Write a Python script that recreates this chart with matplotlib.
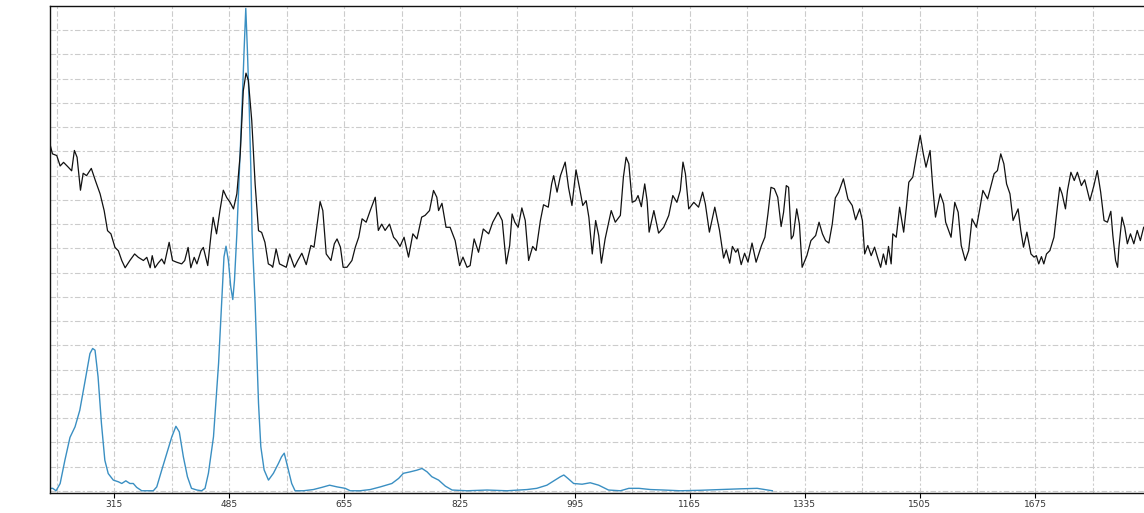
import matplotlib.pyplot as plt
import numpy as np

# measured spectrum (black trace)
meas_x = [220, 223.6, 230, 235, 240, 247, 252, 256, 260, 265, 269, 274, 281, 287, 294, 300,
          305, 310, 316, 321, 326, 331, 338, 345, 350.5, 358, 363, 368, 371, 375, 380, 385,
          389, 396, 401, 407, 414.5, 419, 424, 428, 433, 437, 443, 446.5, 453, 458, 461, 466,
          471, 476, 481, 486, 491, 496, 501, 505.5, 509.5, 513, 518, 523, 528, 532.6, 537.5,
          542.5, 547,
          549, 554, 559, 564, 569, 574, 581, 586, 592, 598.5, 605.4, 610, 614, 619, 623, 628,
          635, 640, 644, 649, 653, 658.6, 666, 671, 676, 681, 687, 693, 700.4, 705, 710, 715,
          721.5, 727.5, 732, 737, 743, 749.6, 756, 762, 769, 774, 780.6, 786.5, 791.4, 794,
          799, 805, 811, 818.5, 825, 830, 836, 840.6, 846.5, 853, 860, 868, 874, 882,
          888, 894, 899, 902.6, 906.6, 911.5, 917, 922, 927, 933, 938, 944.4, 949, 956, 961,
          964, 969, 974, 981, 986, 991, 997, 1002, 1007, 1012, 1016, 1021, 1026, 1030.5,
          1034.5, 1040, 1049, 1055, 1062.5, 1067, 1071, 1075, 1080, 1085, 1088.6, 1093.5,
          1098.5, 1102, 1105, 1112, 1119, 1126.5, 1134, 1140, 1146, 1151, 1155, 1158.6,
          1163.5, 1171, 1178, 1184, 1188, 1194, 1202, 1209,
          1215, 1219, 1224, 1228, 1233, 1236, 1241, 1246, 1251, 1257, 1263, 1271, 1276,
          1280.5, 1285, 1290, 1295, 1300, 1303.6, 1307.6, 1311, 1315, 1318, 1323, 1327, 1331,
          1338, 1344, 1351, 1356, 1361, 1365.6, 1370.5, 1375.5, 1380, 1385, 1392, 1398.6,
          1405, 1410, 1416, 1420, 1423.4, 1428, 1433, 1438, 1443, 1447, 1451, 1455, 1458.6,
          1462.5, 1465, 1470, 1475, 1481, 1485, 1488.6, 1494.5, 1499.5, 1505.4, 1510, 1514,
          1520, 1524, 1528, 1535, 1540, 1543,
          1551, 1556.5, 1561.5, 1566, 1572, 1577, 1582, 1588.5, 1593.4, 1598, 1605, 1610,
          1614.6, 1619.5, 1624.4, 1629, 1633, 1638, 1642.6, 1650, 1654, 1658, 1663, 1669,
          1673.6, 1677, 1680.5, 1684.5, 1688, 1692, 1697, 1703, 1708, 1711.5, 1715, 1720,
          1723, 1728, 1733, 1737.6, 1743.5, 1748.4, 1756, 1762, 1767, 1772, 1777, 1782, 1787,
          1790, 1794, 1797, 1799, 1803.5, 1807.5, 1811.4, 1816, 1821, 1826, 1830.6, 1835.5]
meas_y = [14.3, 13.9, 13.83, 13.4, 13.55, 13.35, 13.2, 14.04, 13.76, 12.4, 13.1, 13.0, 13.3,
          12.8, 12.25, 11.56, 10.73, 10.6, 10.04, 9.9, 9.5, 9.2, 9.5, 9.77, 9.63, 9.5, 9.63,
          9.2, 9.7, 9.2, 9.4, 9.56, 9.36, 10.25, 9.5, 9.43, 9.36, 9.5, 10.04, 9.2, 9.63, 9.36,
          9.9, 10.04, 9.29, 10.6, 11.28, 10.6, 11.56, 12.4, 12.1, 11.9, 11.63, 12.25, 13.9,
          16.5, 17.23, 16.93, 15.28, 12.66, 10.73, 10.66, 10.25, 9.36, 9.29,
          9.22, 9.98, 9.36, 9.29, 9.22, 9.77, 9.22, 9.5, 9.8, 9.33, 10.12, 10.05, 10.87, 11.93,
          11.56, 9.77, 9.5, 10.19, 10.39, 10.05, 9.22, 9.22, 9.5, 10.05, 10.46, 11.22, 11.08,
          11.56, 12.11, 10.74, 11.0, 10.74, 11.0, 10.46, 10.32, 10.08, 10.46, 9.64, 10.6,
          10.39, 11.29, 11.36, 11.56, 12.39, 12.11, 11.56, 11.86, 10.87, 10.87, 10.32, 9.29,
          9.64, 9.22, 9.29, 10.39, 9.84, 10.8, 10.6, 11.08, 11.49,
          11.15, 9.36, 10.12, 11.42, 11.08, 10.87, 11.67, 11.15, 9.5, 10.08, 9.91, 11.15, 11.8,
          11.7, 12.66, 13.0, 12.32, 13.0, 13.56, 12.5, 11.77, 13.24, 12.52, 11.77, 11.97,
          11.28, 9.77, 11.15, 10.53, 9.39, 10.39, 11.56, 11.08, 11.36, 12.94, 13.76, 13.49,
          11.9, 11.97, 12.18, 11.72, 12.66, 11.97, 10.67, 11.56, 10.63, 10.87, 11.36, 12.18,
          11.9, 12.39, 13.56, 13.08, 11.63, 11.9, 11.7, 12.32, 11.84, 10.67, 11.7, 10.74,
          9.6, 9.94, 9.39, 10.08, 9.84, 9.98, 9.33, 9.8, 9.43, 10.22, 9.43, 10.12, 10.46,
          11.42, 12.52, 12.46, 12.11, 10.9, 11.49, 12.59, 12.52, 10.39, 10.53, 11.63, 11.0,
          9.22, 9.7, 10.32, 10.53, 11.08, 10.6, 10.32, 10.22, 11.0, 12.08, 12.32, 12.87,
          12.04, 11.77, 11.18, 11.63, 11.15, 9.77, 10.12, 9.7, 10.05, 9.57, 9.22, 9.77, 9.33,
          10.08, 9.36, 10.6, 10.46, 11.7, 10.67, 11.7, 12.73, 12.94, 13.76, 14.66, 13.9,
          13.35, 14.04, 12.52, 11.29, 12.25, 11.84, 11.08,
          10.46, 11.9, 11.49, 10.12, 9.5, 9.91, 11.22, 10.87, 11.63, 12.39, 12.04, 12.59,
          13.08, 13.21, 13.9, 13.49, 12.66, 12.25, 11.15, 11.63, 10.74, 10.05, 10.67, 9.77,
          9.64, 9.7, 9.36, 9.66, 9.36, 9.77, 9.91, 10.46, 11.7, 12.52, 12.25, 11.63, 12.39,
          13.14, 12.8, 13.14, 12.59, 12.83, 11.97, 12.59, 13.21, 12.32, 11.15, 11.08, 11.53,
          10.53, 9.5, 9.22, 10.05, 11.29, 10.87, 10.19, 10.6, 10.19, 10.74, 10.32, 10.87]

# reference spectrum (blue trace)
ref_x = [220, 224, 229, 235, 242, 249.5, 257, 264, 272, 279, 283, 286.5, 291, 296, 301, 306,
         313.5, 321, 326, 332, 338, 343, 348, 355.5, 365, 372.6, 377.7, 385, 392.5, 400, 406,
         411, 417, 423, 429, 437, 444, 449, 454, 461.5, 469, 474, 477, 480, 483.5, 487, 490,
         492.5, 496, 500, 504, 506.7, 509.2, 511.6, 514, 516.6, 518.5, 523, 525.5, 528,
         531.4, 536.3, 542.7, 550, 557.5, 562, 566, 570, 577, 582, 594.4, 609, 621.6, 633,
         644, 656, 663.5, 678, 693, 708, 725, 735, 742, 752, 762, 769.5, 777, 784, 794, 804,
         814, 836, 865.5, 895, 924.6, 939, 954, 966, 974, 979, 985, 993.5, 1006, 1018,
         1030.5, 1045, 1062.6, 1075, 1090, 1107, 1126.6, 1151, 1181, 1210, 1240, 1264.6, 1287]
ref_y = [0.1, 0.1, 0.0, 0.3, 1.26, 2.2, 2.64, 3.32, 4.56, 5.66, 5.87, 5.8, 4.7, 2.77, 1.26,
         0.71, 0.44, 0.37, 0.3, 0.41, 0.3, 0.3, 0.14, 0.0, 0.0, 0.0, 0.16, 0.85, 1.54, 2.23,
         2.66, 2.43, 1.4, 0.58, 0.1, 0.03, 0.0, 0.1, 0.72, 2.23, 5.25, 8.0, 9.65, 10.09, 9.5,
         8.41, 7.89, 8.68, 10.6, 13.36, 16.1, 18.17, 19.9, 18.17, 16.1, 13.36, 10.6, 7.73,
         5.67, 3.61, 1.82, 0.86, 0.44, 0.72, 1.13, 1.4, 1.55, 1.1, 0.3, 0.0, 0.0, 0.05, 0.14,
         0.23, 0.16, 0.1, 0.0, 0.0, 0.05, 0.16, 0.3, 0.51, 0.72, 0.78, 0.85, 0.92, 0.78, 0.58,
         0.44, 0.19, 0.03, 0.0, 0.03, 0.0, 0.05, 0.1, 0.23, 0.44, 0.58, 0.65, 0.51, 0.3, 0.27,
         0.33, 0.23, 0.03, 0.0, 0.1, 0.1, 0.05, 0.03, 0.0, 0.02, 0.05, 0.08, 0.1, 0.0]

tick_labels = [315, 485, 655, 825, 995, 1165, 1335, 1505, 1675]
grid_step = 85

fig = plt.figure(figsize=(11.44, 5.13), dpi=100)
ax = fig.add_axes([50 / 1144, 20.3 / 513, 1 - 50 / 1144, 486.7 / 513])

ax.plot(meas_x, meas_y, color='#111111', linewidth=0.9, zorder=3)
ax.plot(ref_x, ref_y, color='#3a8fc2', linewidth=1.0, zorder=2)

ax.set_xlim(220, 1836)
ax.set_ylim(-0.08, 20)

ax.set_xticks(tick_labels)
ax.set_xticklabels([str(t) for t in tick_labels], fontsize=6.5, color='#333333')
ax.set_xticks(np.arange(230, 1836, grid_step), minor=True)
ax.set_yticks(np.arange(0, 20, 1))
ax.set_yticklabels([])
ax.tick_params(axis='y', length=0)
ax.tick_params(axis='x', which='major', length=3.5, width=0.8, pad=2)
ax.tick_params(axis='x', which='minor', length=0)

dash = (0, (5, 2, 2, 2))
ax.grid(True, axis='y', color='#cccccc', linestyle=dash, linewidth=0.8)
ax.grid(True, axis='x', which='both', color='#cccccc', linestyle=dash, linewidth=0.8)
ax.set_axisbelow(True)

for side in ['left', 'top', 'bottom']:
    ax.spines[side].set_color('#111111')
    ax.spines[side].set_linewidth(1.0)
ax.spines['right'].set_visible(False)

plt.savefig('out.png', dpi=100)
